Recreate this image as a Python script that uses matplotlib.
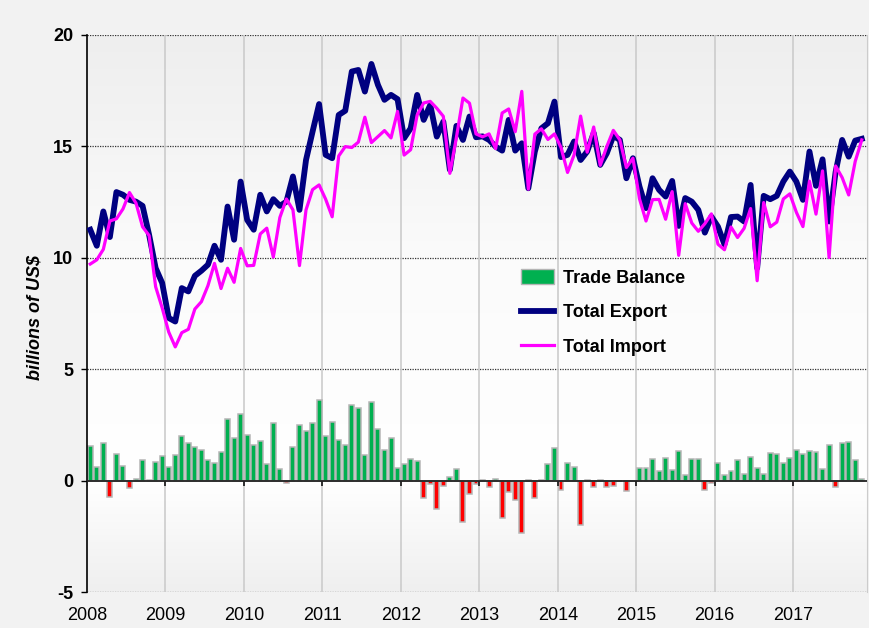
import matplotlib
matplotlib.use("Agg")
import matplotlib.pyplot as plt
import numpy as np
from matplotlib.colors import LinearSegmentedColormap
from matplotlib.patches import Patch
from matplotlib.lines import Line2D

plt.rcParams['font.family'] = ['Liberation Sans', 'DejaVu Sans']

# monthly values, Jan 2008 - Nov 2017, billions of US$
exports = [
    11.26, 10.54, 12.08, 10.93, 12.95, 12.83, 12.60, 12.52, 12.33, 11.03, 9.54, 8.87,
    7.30, 7.14, 8.64, 8.49, 9.19, 9.42, 9.69, 10.54, 9.91, 12.30, 10.81, 13.42,
    11.70, 11.26, 12.83, 12.08, 12.63, 12.33, 12.52, 13.65, 12.15, 14.39, 15.66, 16.90,
    14.62, 14.47, 16.41, 16.60, 18.36, 18.43, 17.46, 18.70, 17.76, 17.09, 17.31, 17.12,
    15.37, 15.81, 17.31, 16.19, 16.86, 15.44, 16.11, 13.95, 15.92, 15.29, 16.34, 15.41,
    15.45, 15.29, 14.99, 14.81, 16.19, 14.81, 15.14, 13.12, 14.77, 15.81, 16.04, 17.01,
    14.52, 14.62, 15.22, 14.39, 14.77, 15.60, 14.17, 14.69, 15.47, 15.29, 13.57, 14.47,
    13.20, 12.23, 13.57, 13.05, 12.75, 13.45, 11.43, 12.68, 12.52, 12.15, 11.13, 11.85,
    11.40, 10.60, 11.83, 11.85, 11.63, 13.27, 9.54, 12.78, 12.63, 12.78, 13.42, 13.87,
    13.42, 12.60, 14.77, 13.23, 14.42, 11.63, 13.85, 15.29, 14.54, 15.26, 15.34,
]
imports = [
    9.72, 9.91, 10.38, 11.65, 11.75, 12.19, 12.93, 12.45, 11.39, 11.00, 8.70, 7.75,
    6.67, 6.00, 6.64, 6.79, 7.70, 8.03, 8.75, 9.75, 8.62, 9.53, 8.90, 10.42,
    9.64, 9.66, 11.07, 11.33, 10.03, 11.81, 12.64, 12.15, 9.65, 12.15, 13.06, 13.27,
    12.63, 11.84, 14.57, 14.99, 14.95, 15.19, 16.31, 15.17, 15.44, 15.71, 15.38, 16.57,
    14.61, 14.85, 16.41, 16.95, 17.02, 16.71, 16.35, 13.79, 15.40, 17.17, 16.94, 15.56,
    15.43, 15.56, 14.90, 16.50, 16.68, 15.66, 17.47, 13.08, 15.55, 15.79, 15.31, 15.56,
    14.95, 13.83, 14.62, 16.36, 14.74, 15.87, 14.15, 14.99, 15.72, 15.29, 14.05, 14.47,
    12.65, 11.65, 12.61, 12.62, 11.73, 12.97, 10.11, 12.43, 11.56, 11.19, 11.53, 11.97,
    10.61, 10.36, 11.38, 10.91, 11.32, 12.21, 8.97, 12.48, 11.39, 11.60, 12.64, 12.87,
    12.04, 11.40, 13.44, 11.96, 13.90, 10.01, 14.12, 13.60, 12.82, 14.33, 15.29,
]
balance = [
    1.54, 0.63, 1.70, -0.72, 1.20, 0.64, -0.33, 0.07, 0.94, 0.03, 0.84, 1.12,
    0.63, 1.14, 2.00, 1.70, 1.49, 1.39, 0.94, 0.79, 1.29, 2.77, 1.91, 3.00,
    2.06, 1.60, 1.76, 0.75, 2.60, 0.52, -0.12, 1.50, 2.50, 2.24, 2.60, 3.63,
    1.99, 2.63, 1.84, 1.61, 3.41, 3.24, 1.15, 3.53, 2.32, 1.38, 1.93, 0.55,
    0.76, 0.96, 0.90, -0.76, -0.16, -1.27, -0.24, 0.16, 0.52, -1.88, -0.60, -0.15,
    0.02, -0.27, 0.09, -1.69, -0.49, -0.85, -2.33, 0.04, -0.78, 0.02, 0.73, 1.45,
    -0.43, 0.79, 0.60, -1.97, 0.03, -0.27, 0.02, -0.30, -0.25, 0.00, -0.48, 0.00,
    0.55, 0.58, 0.96, 0.43, 1.02, 0.48, 1.32, 0.25, 0.96, 0.96, -0.40, -0.12,
    0.79, 0.24, 0.45, 0.94, 0.31, 1.06, 0.57, 0.30, 1.24, 1.18, 0.78, 1.00,
    1.38, 1.20, 1.33, 1.27, 0.52, 1.62, -0.27, 1.69, 1.72, 0.93, 0.05,
]
years = ['2008', '2009', '2010', '2011', '2012', '2013', '2014', '2015', '2016', '2017']

green = '#00b050'
red = '#ff0000'
navy = '#000080'
magenta = '#ff00ff'

x = np.arange(len(exports)) + 0.5
xmax = 119.3

fig = plt.figure(figsize=(8.69, 6.28), dpi=100, facecolor='#f2f2f2')
ax = fig.add_axes([0.1001, 0.0573, 0.8976, 0.887])

# plot area gradient
bg = LinearSegmentedColormap.from_list('bg', [(0, '#efefef'), (0.2, '#ffffff'),
                                             (0.6, '#fbfbfb'), (1, '#eeeeee')])
grad = np.linspace(0, 1, 256).reshape(-1, 1)
ax.imshow(grad, cmap=bg, aspect='auto', extent=[0, xmax, -5, 20],
          origin='lower', zorder=0)

# grid
for yv in [-5, 5, 10, 15, 20]:
    ax.axhline(yv, color='#333333', lw=0.9, ls=(0, (1, 1)), zorder=1)
for k in range(1, len(years)):
    ax.axvline(k * 12, color='#cccccc', lw=1.2, zorder=1)

colors = [green if b >= 0 else red for b in balance]
ax.bar(x, balance, width=0.76, color=colors, edgecolor='#b5b5b5', lw=1.1, zorder=2)

ax.axhline(0, color='#222222', lw=1.3, zorder=3)
ax.vlines(np.arange(len(years)) * 12, -0.22, 0, color='#222222', lw=1.3, zorder=3)

ax.plot(x, exports, color=navy, lw=4.2, solid_joinstyle='round', zorder=4)
ax.plot(x, imports, color=magenta, lw=2.3, solid_joinstyle='round', zorder=5)

ax.set_xlim(0, xmax)
ax.set_ylim(-5, 20)
ax.set_yticks([-5, 0, 5, 10, 15, 20])
ax.set_yticklabels(['-5', '0', '5', '10', '15', '20'], fontweight='bold', fontsize=13)
ax.set_xticks(np.arange(len(years)) * 12)
ax.set_xticklabels(years, fontsize=13)
ax.tick_params(axis='x', length=0, pad=11)
ax.tick_params(axis='y', length=4, width=1, direction='out', pad=6)

for s in ['top', 'bottom']:
    ax.spines[s].set_visible(False)
ax.spines['left'].set_color('black')
ax.spines['left'].set_linewidth(1.2)
ax.spines['right'].set_color('#cccccc')

fig.text(0.040, 0.494, 'billions of US$', rotation=90, ha='center', va='center',
         fontsize=13, fontweight='bold', fontstyle='italic')

handles = [Patch(facecolor=green, edgecolor='#b5b5b5', lw=1.0),
           Line2D([], [], color=navy, lw=4.2),
           Line2D([], [], color=magenta, lw=2.3)]
leg = fig.legend(handles, ['Trade Balance', 'Total Export', 'Total Import'],
                 loc='upper left', bbox_to_anchor=(0.585, 0.592), frameon=False,
                 prop={'weight': 'bold', 'size': 13}, handlelength=1.8,
                 handleheight=0.9, handletextpad=0.5, labelspacing=0.95,
                 borderpad=0.2)

fig.savefig('out.png', dpi=100, facecolor=fig.get_facecolor())
